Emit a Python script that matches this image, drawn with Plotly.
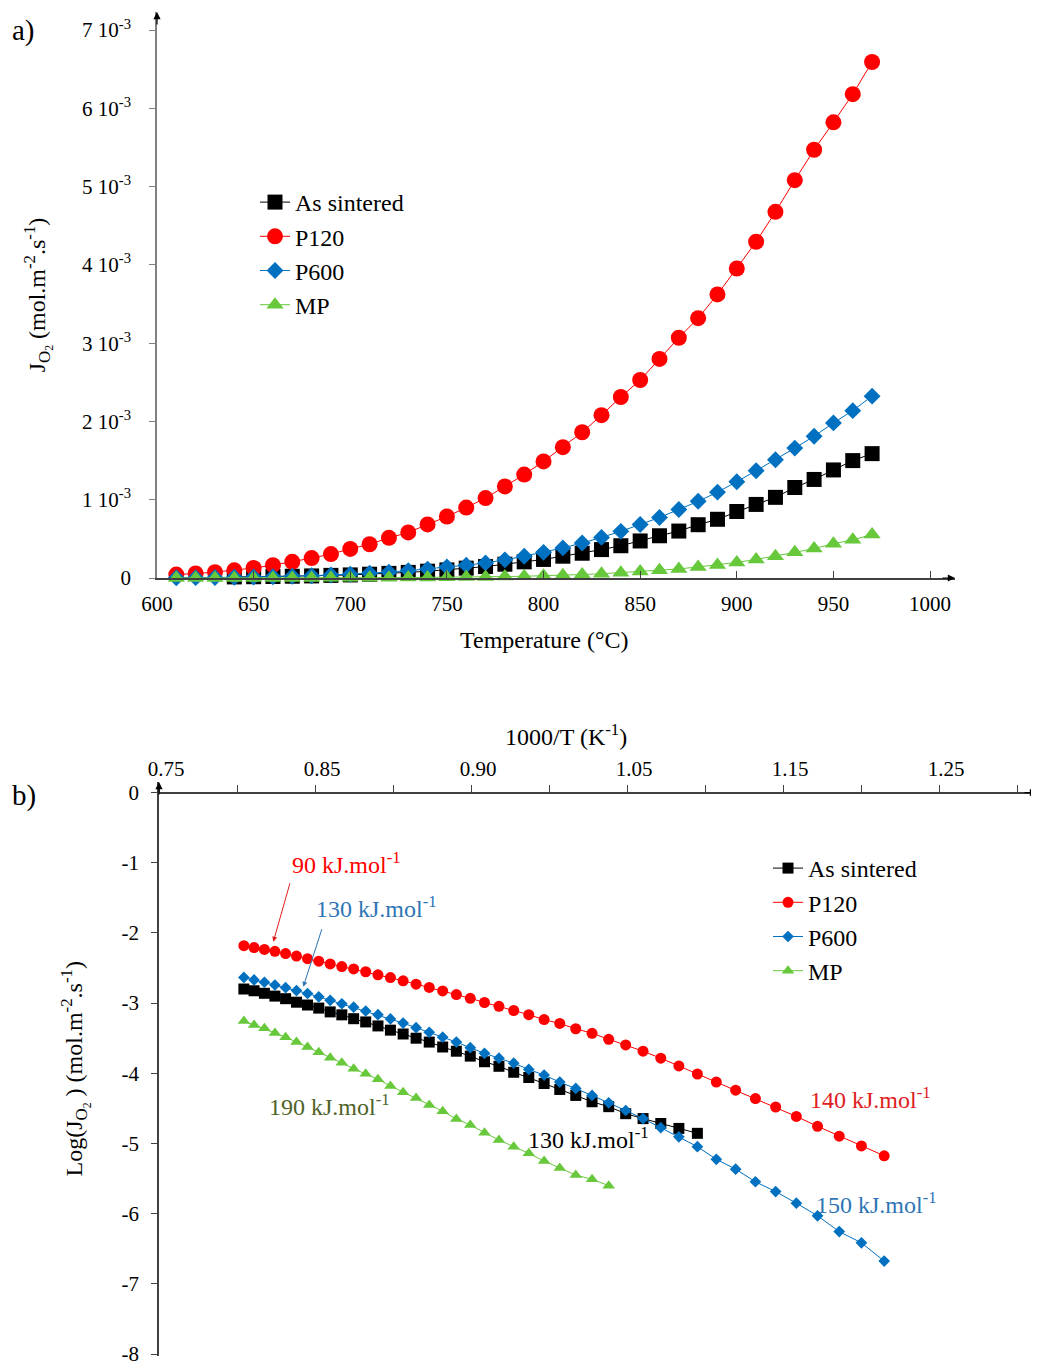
import plotly.graph_objects as go

# Measurement temperatures (°C), hottest first
temperatures = [970, 960, 950, 940, 930, 920, 910, 900, 890, 880,
                870, 860, 850, 840, 830, 820, 810, 800, 790, 780,
                770, 760, 750, 740, 730, 720, 710, 700, 690, 680,
                670, 660, 650, 640, 630, 620, 610, 600, 590, 580,
                570, 560, 550]

# log10 of the oxygen flux (mol.m-2.s-1) for each membrane
log_sintered = [-2.799, -2.824, -2.860, -2.900, -2.937, -2.987, -3.027, -3.071, -3.125, -3.167,
                -3.222, -3.268, -3.325, -3.385, -3.440, -3.500, -3.555, -3.625, -3.685, -3.755,
                -3.835, -3.900, -3.985, -4.060, -4.145, -4.230, -4.315, -4.405, -4.475, -4.575,
                -4.645, -4.715, -4.785, -4.855]
log_p120 = [-2.181, -2.209, -2.235, -2.262, -2.294, -2.330, -2.367, -2.403, -2.441, -2.479,
            -2.513, -2.553, -2.597, -2.636, -2.682, -2.730, -2.777, -2.827, -2.879, -2.932,
            -2.991, -3.046, -3.105, -3.165, -3.235, -3.290, -3.365, -3.430, -3.515, -3.595,
            -3.685, -3.785, -3.895, -4.010, -4.125, -4.240, -4.360, -4.480, -4.615, -4.755,
            -4.895, -5.035, -5.175]
log_p600 = [-2.634, -2.670, -2.703, -2.742, -2.780, -2.821, -2.863, -2.910, -2.960, -3.009,
            -3.058, -3.112, -3.165, -3.225, -3.285, -3.350, -3.415, -3.485, -3.555, -3.635,
            -3.715, -3.785, -3.855, -3.945, -4.025, -4.125, -4.215, -4.315, -4.420, -4.530,
            -4.645, -4.775, -4.905, -5.045, -5.225, -5.365, -5.545, -5.685, -5.850, -6.030,
            -6.255, -6.415, -6.675]
log_mp = [-3.256, -3.312, -3.359, -3.424, -3.485, -3.555, -3.625, -3.700, -3.780, -3.850,
          -3.935, -4.005, -4.085, -4.180, -4.270, -4.350, -4.450, -4.540, -4.650, -4.735,
          -4.845, -4.950, -5.045, -5.140, -5.250, -5.350, -5.450, -5.510, -5.600]

# MP points at low temperature that are only shown (at zero) on the linear plot
mp_zero_temps = [680, 670, 660, 650, 640, 630, 620, 610]
mp_zero_flux = [0, 0, 0, 0, 0, 0, 0, 0]

names = ["As sintered", "P120", "P600", "MP"]
colors = ["#000000", "#FF0000", "#0070C0", "#66C83A"]
symbols = ["square", "circle", "diamond", "triangle-up"]
logs = [log_sintered, log_p120, log_p600, log_mp]

# J ticks for panel a
j_ticks = [0, 1e-3, 2e-3, 3e-3, 4e-3, 5e-3, 6e-3, 7e-3]
j_labels = ["0"] + [f"{i} 10<sup>-3</sup>" for i in range(1, 8)]

# 1000/T ticks for panel b (labels as printed on the original figure)
inv_ticks = [0.75, 0.85, 0.95, 1.05, 1.15, 1.25]
inv_labels = ["0.75", "0.85", "0.90", "1.05", "1.15", "1.25"]
inv_minor = [0.80, 0.90, 1.00, 1.10, 1.20, 1.30]

log_ticks = [0, -1, -2, -3, -4, -5, -6, -7, -8]
log_labels = ["0", "-1", "-2", "-3", "-4", "-5", "-6", "-7", "-8"]

FONT = "Liberation Serif, Times New Roman, serif"
# the page body adds an 8 px margin, so the figure is a bit smaller than the window
PAD = 8
W, H = 1039 - PAD, 1365 - PAD


def px(x):
    return (x - PAD) / W


def py(y):
    return 1 - (y - PAD) / H


sizes_a = [15, 16, 13, 15]
sizes_b = [11, 11, 9, 11]

fig = go.Figure()

# Panel a: flux against temperature
for name, color, sym, logv, sa in zip(names, colors, symbols, logs, sizes_a):
    t = [temperatures[i] for i in range(len(logv)) if temperatures[i] > 600]
    j = [10 ** logv[i] for i in range(len(logv)) if temperatures[i] > 600]
    if name == "MP":
        t = t + mp_zero_temps
        j = j + mp_zero_flux
    fig.add_trace(go.Scatter(
        x=t, y=j, mode="lines+markers", name=name,
        line=dict(color=color, width=1),
        marker=dict(symbol=sym, size=sa, color=color),
        xaxis="x", yaxis="y", legend="legend", legendgroup="a" + name,
        cliponaxis=False,
    ))

# Panel b: Arrhenius plot
for name, color, sym, logv, sb in zip(names, colors, symbols, logs, sizes_b):
    inv_t = [1000 / (temperatures[i] + 273.15) for i in range(len(logv))]
    fig.add_trace(go.Scatter(
        x=inv_t, y=logv, mode="lines+markers", name=name,
        line=dict(color=color, width=1),
        marker=dict(symbol=sym, size=sb, color=color),
        xaxis="x2", yaxis="y2", legend="legend2", legendgroup="b" + name,
        cliponaxis=False,
    ))

tick_font = dict(family=FONT, size=21, color="#000000")
title_font = dict(family=FONT, size=24, color="#000000")
jo2 = "J<sub>O<sub>2</sub></sub>"

fig.update_layout(
    width=W, height=H,
    margin=dict(l=0, r=0, t=0, b=0),
    paper_bgcolor="white", plot_bgcolor="white",
    font=dict(family=FONT, size=21, color="#000000"),
    xaxis=dict(
        domain=[px(157), px(955)], range=[600, 1012.9], anchor="y",
        tickvals=[600, 650, 700, 750, 800, 850, 900, 950, 1000],
        ticks="inside", ticklen=7, tickcolor="#404040",
        showline=True, linecolor="#404040", linewidth=1.5,
        showgrid=False, zeroline=False, tickfont=tick_font,
        ticklabelstandoff=6, automargin=False,
    ),
    yaxis=dict(
        domain=[py(578), py(12)], range=[0, 7.23e-3], anchor="x",
        tickvals=j_ticks, ticktext=j_labels,
        ticks="outside", ticklen=6, tickcolor="#808080",
        showline=True, linecolor="#808080", linewidth=1.5,
        showgrid=False, zeroline=False, tickfont=tick_font,
        ticklabelstandoff=14, automargin=False, ticklabeloverflow="allow",
        title=dict(text=jo2 + " (mol.m<sup>-2</sup>.s<sup>-1</sup>)",
                   font=title_font, standoff=30),
    ),
    xaxis2=dict(
        domain=[px(159), px(1037)], range=[0.75, 1.3128],
        anchor="free", position=py(792.5), side="top",
        tickvals=inv_ticks, ticktext=inv_labels,
        ticks="outside", ticklen=7, tickcolor="#404040",
        minor=dict(tickvals=inv_minor, ticks="outside", ticklen=7,
                   tickcolor="#404040", showgrid=False),
        showline=True, linecolor="#404040", linewidth=1.5,
        showgrid=False, zeroline=False, tickfont=tick_font,
        ticklabelshift=7, ticklabelstandoff=0, automargin=False,
    ),
    yaxis2=dict(
        domain=[py(1355.5), py(782)], range=[-8.02, 0.15], anchor="x2",
        tickvals=log_ticks, ticktext=log_labels,
        ticks="outside", ticklen=6, tickcolor="#404040",
        showline=True, linecolor="#404040", linewidth=1.5,
        showgrid=False, zeroline=False, tickfont=tick_font,
        ticklabelstandoff=8, automargin=False, ticklabeloverflow="allow",
        title=dict(text="Log(" + jo2 + " ) (mol.m<sup>-2</sup>.s<sup>-1</sup>)",
                   font=title_font, standoff=32),
    ),
    legend=dict(
        x=px(255), y=py(180), xanchor="left", yanchor="top",
        font=dict(family=FONT, size=24), bgcolor="rgba(0,0,0,0)",
        itemwidth=30, tracegroupgap=7, traceorder="normal",
    ),
    legend2=dict(
        x=px(768), y=py(846), xanchor="left", yanchor="top",
        font=dict(family=FONT, size=24), bgcolor="rgba(0,0,0,0)",
        itemwidth=30, tracegroupgap=7, traceorder="normal",
    ),
)

# Axis arrows, panel labels and activation energies
arrow = dict(text="", showarrow=True, arrowhead=2, arrowsize=1.2,
             arrowwidth=1.2, arrowcolor="#000000")
annotations = [
    dict(xref="x", yref="y", x=600, y=7.23e-3, ax=0, ay=14, **arrow),
    dict(xref="x", yref="y", x=1012.9, y=0, ax=-14, ay=0, **arrow),
    dict(xref="x2", yref="y2", x=0.75, y=0.15, ax=0, ay=14, **arrow),
    dict(xref="x2", yref="y2", x=1.3128, y=0, ax=-14, ay=0, **arrow),
    dict(xref="paper", yref="paper", x=px(10), y=py(30), text="a)",
         showarrow=False, xanchor="left", yanchor="middle",
         font=dict(family=FONT, size=29)),
    dict(xref="paper", yref="paper", x=px(10), y=py(795), text="b)",
         showarrow=False, xanchor="left", yanchor="middle",
         font=dict(family=FONT, size=29)),
    dict(xref="paper", yref="paper", x=px(544), y=py(640), yanchor="middle",
         text="Temperature (°C)", showarrow=False, font=title_font),
    dict(xref="paper", yref="paper", x=px(566), y=py(735), yanchor="middle",
         text="1000/T (K<sup>-1</sup>)", showarrow=False, font=title_font),
]

labels = [
    ("90 kJ.mol<sup>-1</sup>", 0.870, -1.00, "#FF0000"),
    ("130 kJ.mol<sup>-1</sup>", 0.8897, -1.63, "#2E75B6"),
    ("190 kJ.mol<sup>-1</sup>", 0.8596, -4.45, "#4F6228"),
    ("130 kJ.mol<sup>-1</sup>", 1.025, -4.92, "#000000"),
    ("140 kJ.mol<sup>-1</sup>", 1.2058, -4.35, "#E02020"),
    ("150 kJ.mol<sup>-1</sup>", 1.210, -5.85, "#2E75B6"),
]
for text, x, y, c in labels:
    annotations.append(dict(xref="x2", yref="y2", x=x, y=y, text=text,
                            showarrow=False, font=dict(family=FONT, size=24, color=c)))

# Pointers from the low-temperature labels to their curves
annotations.append(dict(xref="x2", yref="y2", x=0.8233, y=-2.125, ax=17, ay=-60,
                        text="", showarrow=True, arrowhead=2, arrowsize=1,
                        arrowwidth=1, arrowcolor="#E02020"))
annotations.append(dict(xref="x2", yref="y2", x=0.8425, y=-2.766, ax=19, ay=-59,
                        text="", showarrow=True, arrowhead=2, arrowsize=1,
                        arrowwidth=1, arrowcolor="#2E75B6"))

fig.update_layout(annotations=annotations)

fig.write_html("out.html")
